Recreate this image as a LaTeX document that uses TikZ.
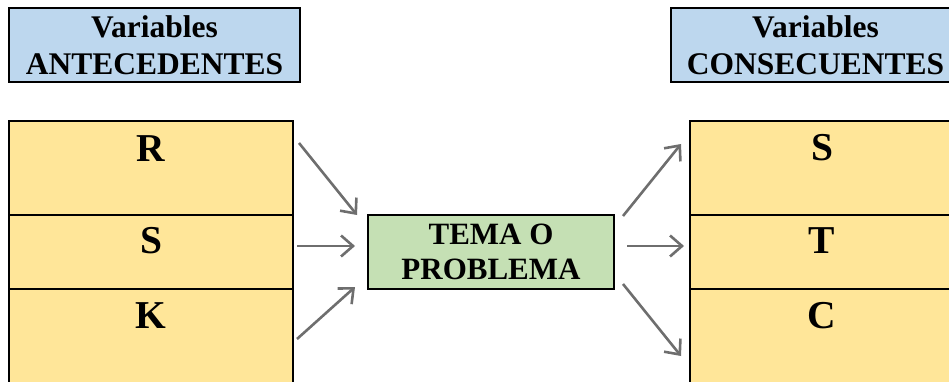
\documentclass[tikz,border=0pt]{standalone}
\usepackage{fontspec}
\setmainfont{Liberation Serif}[BoldFont={Liberation Serif Bold}]
\newfontfamily\tnr{Liberation Serif}[BoldFont={Liberation Serif Bold}]
\usetikzlibrary{arrows.meta}
\definecolor{hdrblue}{HTML}{BDD7EE}
\definecolor{cellyellow}{HTML}{FFE699}
\definecolor{temagreen}{HTML}{C5E0B4}
\definecolor{arrowgray}{HTML}{6E6E6E}
\tikzset{
  hdrbox/.style={draw=black, line width=2.5pt, fill=hdrblue, inner sep=0pt, align=center,
    font=\tnr\fontsize{31.5}{37}\selectfont\bfseries},
  cellbox/.style={draw=black, line width=2.5pt, fill=cellyellow, inner sep=0pt},
  celltext/.style={inner sep=0pt, font=\tnr\fontsize{39.5}{44}\selectfont\bfseries},
  temabox/.style={draw=black, line width=2.5pt, fill=temagreen, inner sep=0pt, align=center,
    font=\tnr\fontsize{31}{35}\selectfont\bfseries},
  flecha/.style={draw=arrowgray, line width=2.6pt,
    -{Straight Barb[length=12pt,width=21pt,line width=2.6pt]}}
}
\begin{document}
\begin{tikzpicture}[x=1pt,y=-1pt]
\useasboundingbox (0,0) rectangle (949,382);
\clip (0,0) rectangle (949,382);
% headers
\node[hdrbox, minimum width=291pt, minimum height=74pt] (hant) at (154.5,45) {Variables\\ANTECEDENTES};
\node[hdrbox, minimum width=289pt, minimum height=74pt] (hcon) at (815.5,45) {Variables\\CONSECUENTES};
% left stack
\node[cellbox, minimum width=284pt, minimum height=94pt] (r) at (151,168) {};
\node[cellbox, minimum width=284pt, minimum height=74pt] (s) at (151,252) {};
\node[cellbox, minimum width=284pt, minimum height=120pt] (k) at (151,349) {};
\node[celltext] (rt) at (151,149) {R};
\node[celltext] (st) at (151,241) {S};
\node[celltext] (kt) at (151,315.5) {K};
% right stack
\node[cellbox, minimum width=264pt, minimum height=94pt] (s2) at (822,168) {};
\node[cellbox, minimum width=264pt, minimum height=74pt] (t2) at (822,252) {};
\node[cellbox, minimum width=264pt, minimum height=120pt] (c2) at (822,349) {};
\node[celltext] (s2t) at (822,148) {S};
\node[celltext] (t2t) at (822,241) {T};
\node[celltext] (c2t) at (822,316) {C};
% center
\node[temabox, minimum width=246pt, minimum height=74pt] (tema) at (491,252) {TEMA O\\PROBLEMA};
% arrow end points
\coordinate (a1s) at (299,143); \coordinate (a1e) at (357,215);
\coordinate (a2s) at (297,246); \coordinate (a2e) at (355,246);
\coordinate (a3s) at (297,339); \coordinate (a3e) at (355,287);
\coordinate (b1s) at (623,216); \coordinate (b1e) at (681,144);
\coordinate (b2s) at (627,246); \coordinate (b2e) at (684,246);
\coordinate (b3s) at (623,284); \coordinate (b3e) at (681,356);
\draw[flecha] (a1s) -- (a1e);
\draw[flecha] (a2s) -- (a2e);
\draw[flecha] (a3s) -- (a3e);
\draw[flecha] (b1s) -- (b1e);
\draw[flecha] (b2s) -- (b2e);
\draw[flecha] (b3s) -- (b3e);
\end{tikzpicture}
\end{document}
